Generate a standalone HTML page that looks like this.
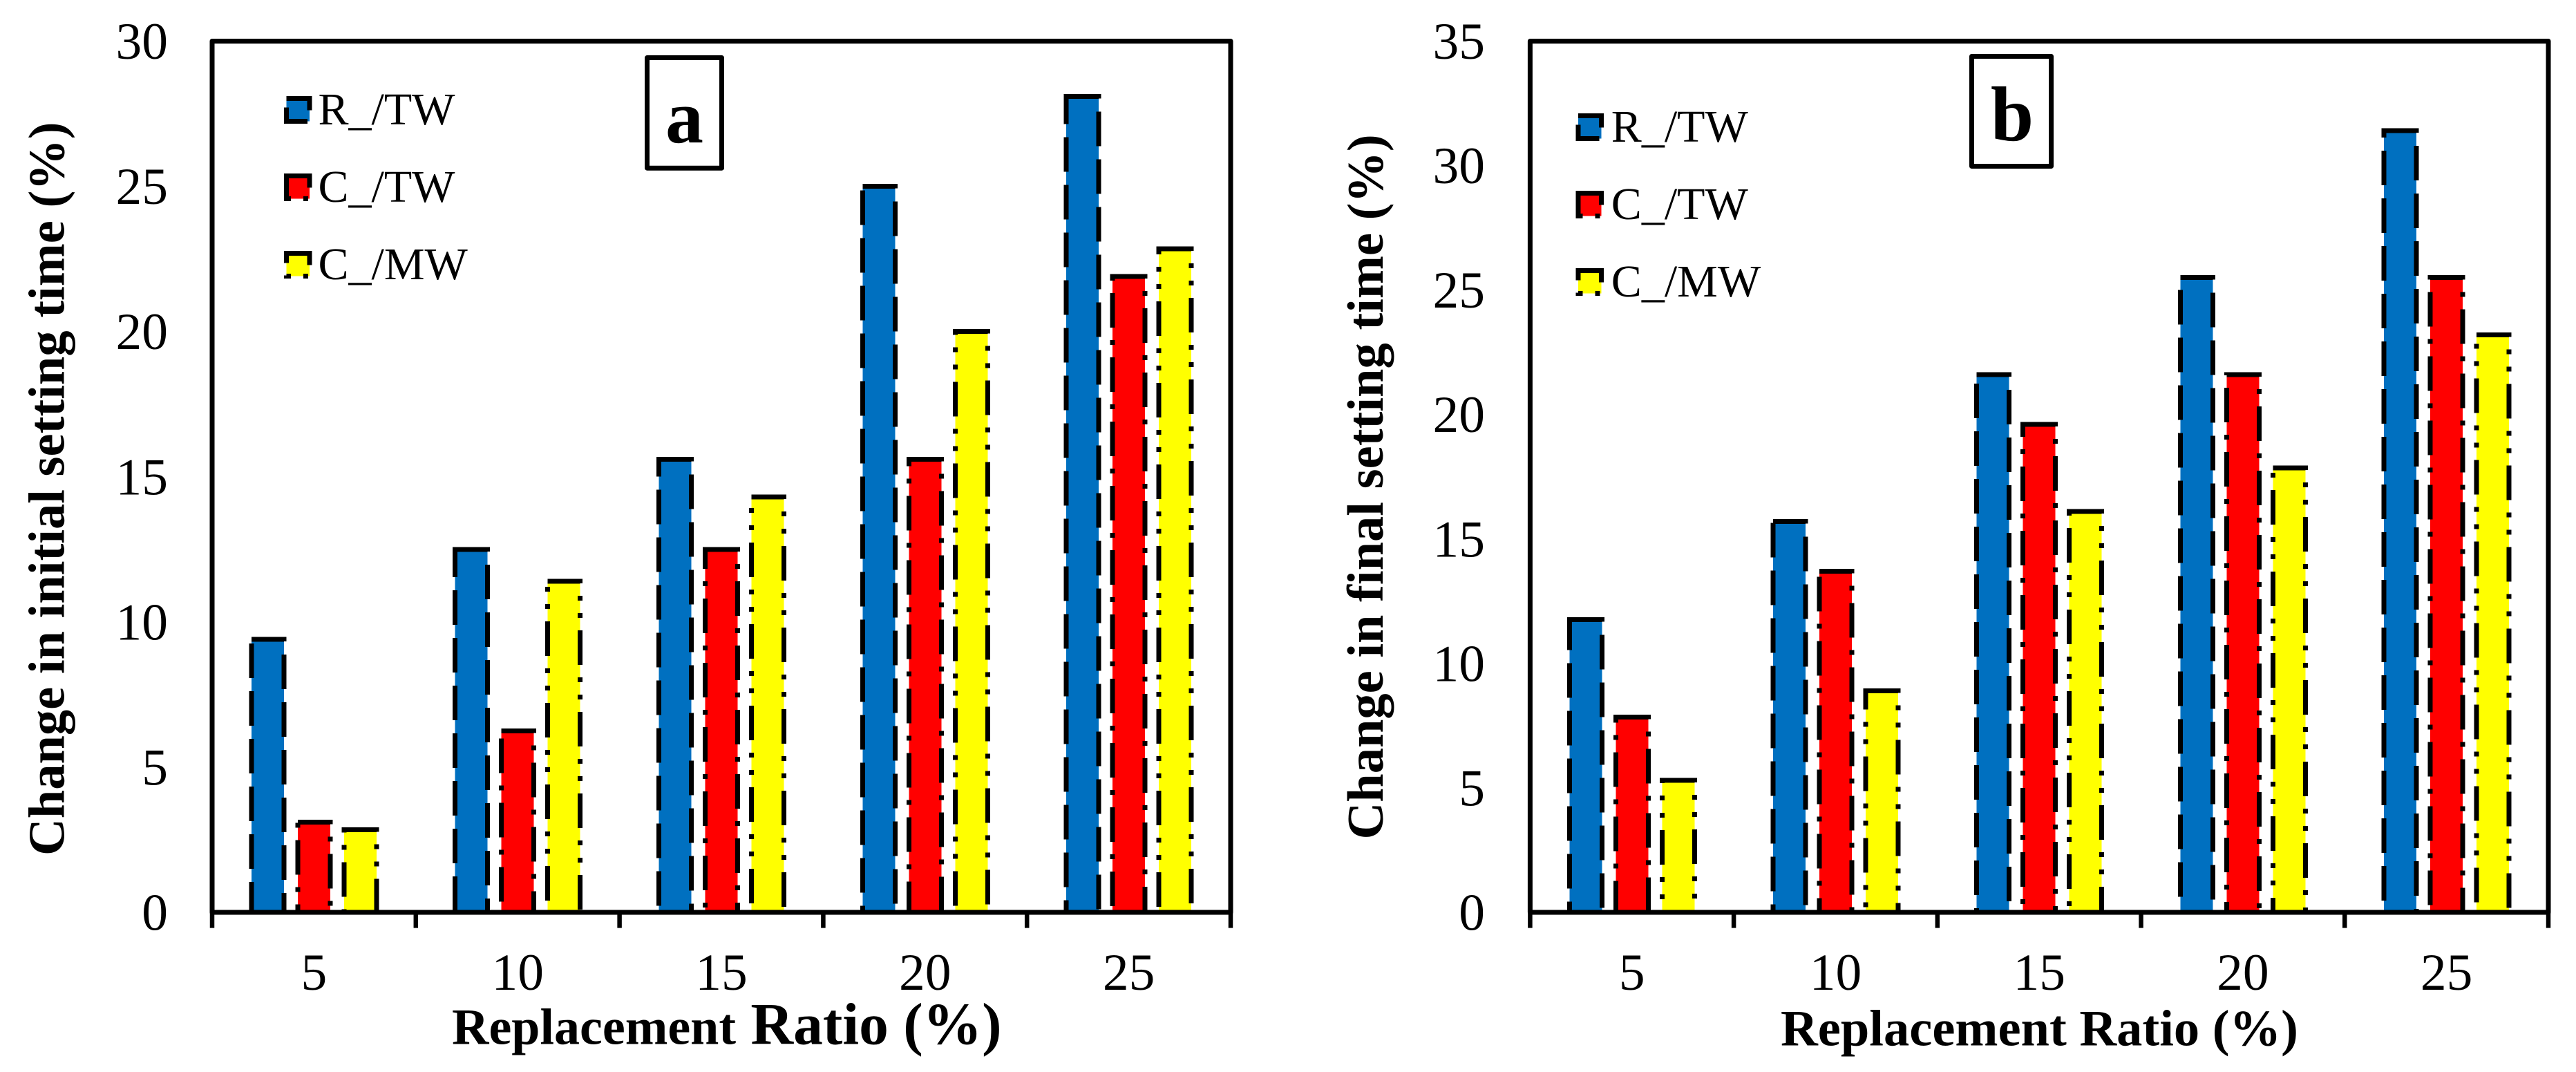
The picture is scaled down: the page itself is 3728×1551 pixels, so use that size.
<!DOCTYPE html>
<html lang="en">
<head>
<meta charset="utf-8">
<title>Change in setting time vs replacement ratio</title>
<style>
html,body{margin:0;padding:0;background:#fff;width:3728px;height:1551px;overflow:hidden}
svg{display:block}
text{font-family:"Liberation Serif",serif;fill:#000}
.tick{font-size:75.5px}
.title{font-size:74.5px;font-weight:bold}
.legend{font-size:66px}
</style>
</head>
<body>
<svg id="figure" xmlns="http://www.w3.org/2000/svg" width="3728" height="1551" viewBox="0 0 3728 1551">
  <rect x="0" y="0" width="3728" height="1551" fill="#fff"/>

  <g id="panel-a">
    <g id="bars-a"></g>
    <rect x="307" y="59.5" width="1474" height="1260.5" fill="none" stroke="#000" stroke-width="7" stroke-linejoin="round"/>
    <g id="ticks-a"></g>
    <text class="title" transform="translate(92.5,1238) rotate(-90)">Change in initial setting time (%)</text>
    <text class="title" x="654" y="1510.7" style="font-size:74px">Replacement<tspan style="font-size:85.5px"> Ratio (%)</tspan></text>
    <rect x="936.5" y="83.5" width="108" height="159.7" fill="#fff" stroke="#000" stroke-width="7" stroke-linejoin="round"/>
    <text x="990.5" y="206" text-anchor="middle" font-weight="bold" style="font-size:110px">a</text>
    <g>
      <text class="legend" x="460.5" y="180">R_/TW</text>
      <text class="legend" x="460.5" y="292">C_/TW</text>
      <text class="legend" x="460.5" y="404">C_/MW</text>
    </g>
    <g id="swatches-a"></g>
  </g>

  <g id="panel-b">
    <g id="bars-b"></g>
    <rect x="2214.4" y="59.5" width="1473.6" height="1260.5" fill="none" stroke="#000" stroke-width="7" stroke-linejoin="round"/>
    <g id="ticks-b"></g>
    <text class="title" transform="translate(2001,1214.5) rotate(-90)">Change in final setting time (%)</text>
    <text class="title" x="2577" y="1512.7">Replacement Ratio (%)</text>
    <rect x="2853.5" y="81.5" width="115" height="159" fill="#fff" stroke="#000" stroke-width="7" stroke-linejoin="round"/>
    <text x="2912" y="203" text-anchor="middle" font-weight="bold" style="font-size:112px">b</text>
    <g>
      <text class="legend" x="2331.8" y="205">R_/TW</text>
      <text class="legend" x="2331.8" y="317">C_/TW</text>
      <text class="legend" x="2331.8" y="429">C_/MW</text>
    </g>
    <g id="swatches-b"></g>
  </g>
</svg>

<script>
// Chart data
const categories = ["5", "10", "15", "20", "25"];
const seriesNames = ["R_/TW", "C_/TW", "C_/MW"];

const panelARTW = [9.4, 12.5, 15.6, 25.0, 28.1];
const panelACTW = [3.1, 6.25, 12.5, 15.6, 21.9];
const panelACMW = [2.85, 11.4, 14.3, 20.0, 22.85];
const panelATicks = [0, 5, 10, 15, 20, 25, 30];

const panelBRTW = [11.76, 15.7, 21.6, 25.5, 31.4];
const panelBCTW = [7.85, 13.7, 19.6, 21.6, 25.5];
const panelBCMW = [5.3, 8.9, 16.1, 17.85, 23.2];
const panelBTicks = [0, 5, 10, 15, 20, 25, 30, 35];

// Series styling
const seriesFill = ["#0070C0", "#FF0000", "#FFFF00"];
const seriesDash = ["50 19", "50 18 7 18", "50 18 7 18 7 18"];

const NS = "http://www.w3.org/2000/svg";
const PLOT_TOP = 59.5;
const PLOT_BOTTOM = 1320;
const BAR_W = 47;
const BAR_STEP = 67;

function dashedBoxPath(x, top, w, bottom) {
  return "M" + x + "," + top + " H" + (x + w) + " V" + bottom + " H" + x + " Z";
}

function drawPanel(cfg) {
  const maxTick = cfg.ticks[cfg.ticks.length - 1];
  const yScale = function (v) {
    return PLOT_BOTTOM - (v / maxTick) * (PLOT_BOTTOM - PLOT_TOP);
  };
  const groupW = (cfg.right - cfg.left) / categories.length;
  const groupStart = function (i) {
    return cfg.left + i * groupW;
  };
  const barsG = document.getElementById(cfg.barsId);
  const ticksG = document.getElementById(cfg.ticksId);
  const swatchG = document.getElementById(cfg.swatchId);
  const pad = (groupW - (2 * BAR_STEP + BAR_W)) / 2;

  cfg.series.forEach(function (values, s) {
    values.forEach(function (v, i) {
      const x = groupStart(i) + pad + s * BAR_STEP;
      const bar = document.createElementNS(NS, "path");
      bar.setAttribute("d", dashedBoxPath(x, yScale(v), BAR_W, PLOT_BOTTOM));
      bar.setAttribute("fill", seriesFill[s]);
      bar.setAttribute("stroke", "#000");
      bar.setAttribute("stroke-width", "7");
      bar.setAttribute("stroke-dasharray", seriesDash[s]);
      bar.setAttribute("shape-rendering", "crispEdges");
      
      
      barsG.appendChild(bar);
    });

    const sw = document.createElementNS(NS, "path");
    const swTop = cfg.legendY + s * 112;
    sw.setAttribute("d", dashedBoxPath(cfg.legendX, swTop, 33.3, swTop + 32.7));
    sw.setAttribute("fill", seriesFill[s]);
    sw.setAttribute("stroke", "#000");
    sw.setAttribute("stroke-width", "7");
    sw.setAttribute("stroke-dasharray", seriesDash[s]);
    sw.setAttribute("shape-rendering", "crispEdges");
    
    
    swatchG.appendChild(sw);
  });

  // Y tick labels
  cfg.ticks.forEach(function (t) {
    const label = document.createElementNS(NS, "text");
    label.setAttribute("class", "tick");
    label.setAttribute("x", cfg.yLabelX);
    label.setAttribute("y", yScale(t) + 25.5);
    label.setAttribute("text-anchor", "end");
    
    
    label.textContent = String(t);
    ticksG.appendChild(label);
  });

  // X tick marks
  for (let i = 0; i <= categories.length; i++) {
    const mark = document.createElementNS(NS, "line");
    mark.setAttribute("x1", groupStart(i));
    mark.setAttribute("x2", groupStart(i));
    mark.setAttribute("y1", PLOT_BOTTOM);
    mark.setAttribute("y2", 1342.6);
    mark.setAttribute("stroke", "#000");
    mark.setAttribute("stroke-width", "6.5");
    
    
    ticksG.appendChild(mark);
  }

  // X tick labels
  categories.forEach(function (c, i) {
    const label = document.createElementNS(NS, "text");
    label.setAttribute("class", "tick");
    label.setAttribute("x", groupStart(i) + groupW / 2);
    label.setAttribute("y", 1432);
    label.setAttribute("text-anchor", "middle");
    
    
    label.textContent = c;
    ticksG.appendChild(label);
  });
}

drawPanel({
  left: 307, right: 1781, yLabelX: 243,
  legendX: 414.5, legendY: 142.6,
  barsId: "bars-a", ticksId: "ticks-a", swatchId: "swatches-a",
  ticks: panelATicks,
  series: [panelARTW, panelACTW, panelACMW]
});

drawPanel({
  left: 2214.4, right: 3688, yLabelX: 2149,
  legendX: 2284, legendY: 167.6,
  barsId: "bars-b", ticksId: "ticks-b", swatchId: "swatches-b",
  ticks: panelBTicks,
  series: [panelBRTW, panelBCTW, panelBCMW]
});
</script>
</body>
</html>
